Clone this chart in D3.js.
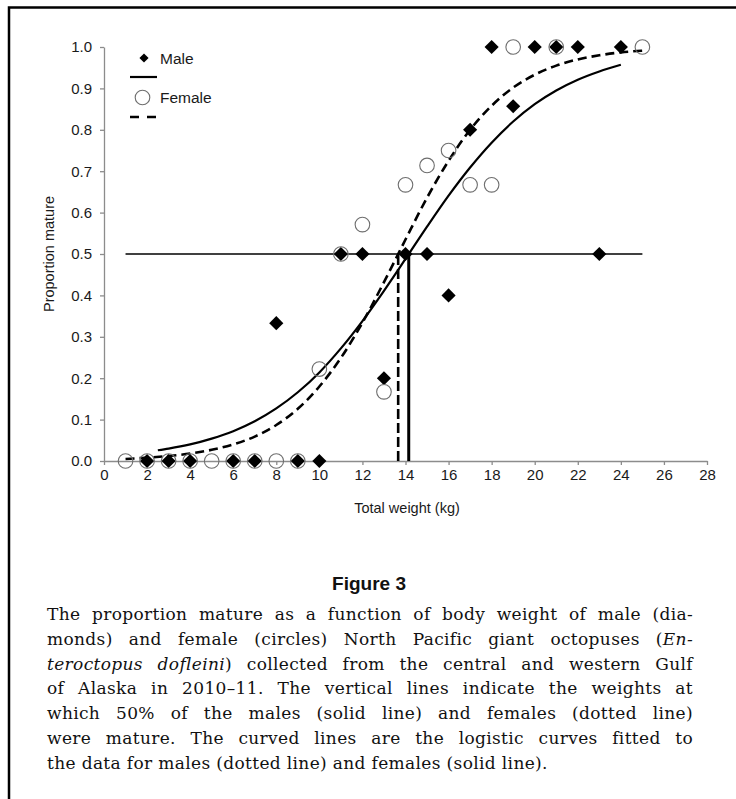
<!DOCTYPE html>
<html>
<head>
<meta charset="utf-8">
<script src="https://cdn.jsdelivr.net/npm/d3@7"></script>
<style>
  body { margin: 0; background: #fff; }
  svg { display: block; }
</style>
</head>
<body>
<div id="chart"></div>
<script>
// Observed points (weight kg, proportion mature)
const maleX = [2, 3, 4, 6, 7, 9, 10, 8, 11, 12, 13, 14, 15, 16, 17, 18, 19, 20, 21, 22, 23, 24];
const maleY = [0, 0, 0, 0, 0, 0, 0, 0.333, 0.5, 0.5, 0.2, 0.5, 0.5, 0.4, 0.8, 1, 0.857, 1, 1, 1, 0.5, 1];
const femaleX = [1, 2, 3, 4, 5, 6, 7, 8, 9, 10, 11, 12, 13, 14, 15, 16, 17, 18, 19, 21, 25];
const femaleY = [0, 0, 0, 0, 0, 0, 0, 0, 0, 0.222, 0.5, 0.571, 0.167, 0.667, 0.714, 0.75, 0.667, 0.667, 1, 1, 1];

// Fitted curves
const maleCurveX = [2.5, 3, 4, 5, 6, 7, 8, 9, 10, 11, 12, 13, 14, 15, 16, 17, 18, 19, 20, 21, 22, 23, 24];
const maleCurveY = [0.026, 0.03, 0.04, 0.054, 0.072, 0.096, 0.127, 0.166, 0.214, 0.272, 0.338, 0.411, 0.488, 0.566, 0.641, 0.709, 0.769, 0.82, 0.862, 0.895, 0.921, 0.941, 0.957];
const femaleCurveX = [1, 2, 3, 4, 5, 6, 7, 8, 9, 10, 11, 12, 13, 14, 15, 16, 17, 18, 19, 20, 21, 22, 23, 24, 25];
const femaleCurveY = [0.005, 0.008, 0.012, 0.018, 0.027, 0.04, 0.059, 0.087, 0.126, 0.18, 0.249, 0.334, 0.432, 0.535, 0.636, 0.725, 0.8, 0.858, 0.902, 0.933, 0.955, 0.97, 0.98, 0.987, 0.991];

// 50% maturity weights and reference line
const male50 = 14.15;
const female50 = 13.66;
const refLineX = [1, 25];

const xTicks = [0, 2, 4, 6, 8, 10, 12, 14, 16, 18, 20, 22, 24, 26, 28];
const yTicks = [0, 0.1, 0.2, 0.3, 0.4, 0.5, 0.6, 0.7, 0.8, 0.9, 1.0];

const captionLines = [
  ["The proportion mature as a function of body weight of male (dia-"],
  ["monds) and female (circles) North Pacific giant octopuses (", {i: "En-"}],
  [{i: "teroctopus dofleini"}, ") collected from the central and western Gulf"],
  ["of Alaska in 2010–11. The vertical lines indicate the weights at"],
  ["which 50% of the males (solid line) and females (dotted line)"],
  ["were mature. The curved lines are the logistic curves fitted to"],
  ["the data for males (dotted line) and females (solid line)."]
];

const W = 736, H = 799;
const svg = d3.select("#chart").append("svg").attr("width", W).attr("height", H);

// frame
svg.append("path").attr("d", "M9,800 L9,7.5 L737,7.5")
  .attr("fill", "none").attr("stroke", "#000").attr("stroke-width", 2.5);

const x = d3.scaleLinear().domain([0, 28]).range([104, 707]);
const y = d3.scaleLinear().domain([0, 1]).range([461, 47]);

const font = "'Liberation Sans', Arial, sans-serif";

// axes
const gX = svg.append("g").attr("transform", `translate(0,${y(0)})`)
  .call(d3.axisBottom(x).tickValues(xTicks).tickSize(4).tickSizeOuter(0).tickPadding(4));
const gY = svg.append("g").attr("transform", `translate(${x(0)},0)`)
  .call(d3.axisLeft(y).tickValues(yTicks).tickFormat(d3.format(".1f")).tickSize(4).tickSizeOuter(0).tickPadding(8));
[gX, gY].forEach(g => {
  g.select(".domain").attr("stroke", "#8c8c8c").attr("stroke-width", 1.3);
  g.selectAll(".tick line").attr("stroke", "#8c8c8c").attr("stroke-width", 1.3);
  g.selectAll(".tick text").attr("fill", "#1a1a1a").style("font", `15px ${font}`);
});

svg.append("text").attr("x", 407).attr("y", 513).attr("text-anchor", "middle")
  .style("font", `14.5px ${font}`).attr("fill", "#1a1a1a").text("Total weight (kg)");
svg.append("text").attr("transform", `translate(54,${(y(0) + y(1)) / 2}) rotate(-90)`)
  .attr("text-anchor", "middle").style("font", `14.5px ${font}`).attr("fill", "#1a1a1a")
  .text("Proportion mature");

// reference lines
svg.append("line").attr("x1", x(refLineX[0])).attr("x2", x(refLineX[1]))
  .attr("y1", y(0.5)).attr("y2", y(0.5)).attr("stroke", "#000").attr("stroke-width", 1.6);
svg.append("line").attr("x1", x(female50)).attr("x2", x(female50))
  .attr("y1", y(0)).attr("y2", y(0.5)).attr("stroke", "#000").attr("stroke-width", 2.6)
  .attr("stroke-dasharray", "10,4");
svg.append("line").attr("x1", x(male50)).attr("x2", x(male50))
  .attr("y1", y(0)).attr("y2", y(0.5)).attr("stroke", "#000").attr("stroke-width", 3);

// curves
const line = d3.line().x(d => x(d[0])).y(d => y(d[1])).curve(d3.curveMonotoneX);
svg.append("path").datum(d3.zip(maleCurveX, maleCurveY)).attr("d", line)
  .attr("fill", "none").attr("stroke", "#000").attr("stroke-width", 2.2);
svg.append("path").datum(d3.zip(femaleCurveX, femaleCurveY)).attr("d", line)
  .attr("fill", "none").attr("stroke", "#000").attr("stroke-width", 2.6)
  .attr("stroke-dasharray", "9,5");

// markers
const diamond = d3.symbol().type(d3.symbolSquare).size(100);
svg.append("g").selectAll("path").data(d3.zip(maleX, maleY)).join("path")
  .attr("d", diamond)
  .attr("transform", d => `translate(${x(d[0])},${y(d[1])}) rotate(45)`)
  .attr("fill", "#000");
svg.append("g").selectAll("circle").data(d3.zip(femaleX, femaleY)).join("circle")
  .attr("cx", d => x(d[0])).attr("cy", d => y(d[1])).attr("r", 7.3)
  .attr("fill", "none").attr("stroke", "#6e6e6e").attr("stroke-width", 1.1);

// legend
const lg = svg.append("g");
lg.append("path").attr("d", d3.symbol().type(d3.symbolSquare).size(42))
  .attr("transform", "translate(144,58) rotate(45)").attr("fill", "#000");
lg.append("text").attr("x", 160).attr("y", 63.5).style("font", `15.5px ${font}`).attr("fill", "#1a1a1a").text("Male");
lg.append("line").attr("x1", 130).attr("x2", 157).attr("y1", 77).attr("y2", 77)
  .attr("stroke", "#000").attr("stroke-width", 2.2);
lg.append("circle").attr("cx", 142.5).attr("cy", 97.5).attr("r", 7.3)
  .attr("fill", "none").attr("stroke", "#6e6e6e").attr("stroke-width", 1.1);
lg.append("text").attr("x", 160).attr("y", 103).style("font", `15.5px ${font}`).attr("fill", "#1a1a1a").text("Female");
lg.append("line").attr("x1", 130).attr("x2", 157).attr("y1", 117).attr("y2", 117)
  .attr("stroke", "#000").attr("stroke-width", 2.6).attr("stroke-dasharray", "9,8");

// figure label and caption
svg.append("text").attr("x", 369).attr("y", 590).attr("text-anchor", "middle")
  .style("font", `bold 19px 'Liberation Sans', Arial, sans-serif`).attr("fill", "#111")
  .text("Figure 3");

const capLeft = 47, capRight = 693;
captionLines.forEach((parts, i) => {
  const t = svg.append("text").attr("x", capLeft).attr("y", 620 + i * 24.8)
    .style("font", "17px 'DejaVu Serif', serif").style("letter-spacing", "0.35px")
    .attr("fill", "#111");
  parts.forEach(p => {
    if (typeof p === "string") t.append("tspan").text(p);
    else t.append("tspan").attr("font-style", "italic").text(p.i);
  });
  if (i < captionLines.length - 1) {
    const natural = t.node().getComputedTextLength();
    const txt = parts.map(p => typeof p === "string" ? p : p.i).join("");
    const spaces = (txt.match(/ /g) || []).length;
    t.attr("word-spacing", (capRight - capLeft - natural) / spaces);
  }
});
</script>
</body>
</html>
